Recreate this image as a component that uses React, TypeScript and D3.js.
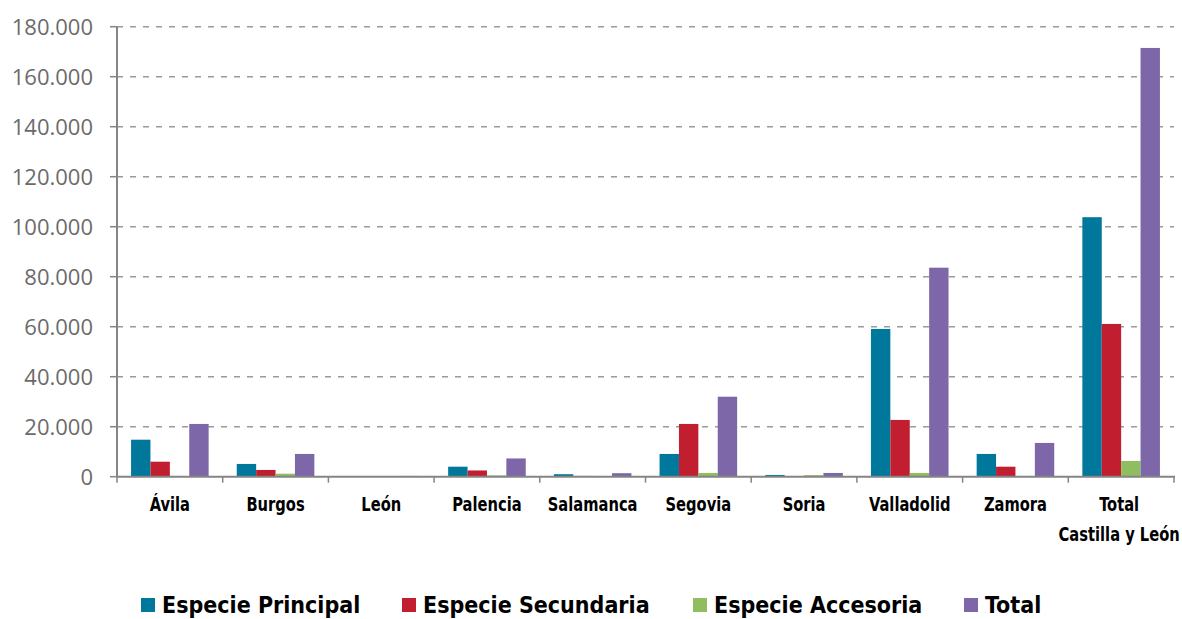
import React from "react";
import * as d3 from "d3";

const categories = ["Ávila", "Burgos", "León", "Palencia", "Salamanca", "Segovia", "Soria", "Valladolid", "Zamora", "Total|Castilla y León"];
const seriesNames = ["Especie Principal", "Especie Secundaria", "Especie Accesoria", "Total"];
const principal = [14800, 5100, 100, 4000, 1000, 9100, 700, 59100, 9100, 103800];
const secundaria = [6000, 2700, 150, 2500, 300, 21100, 200, 22700, 4000, 61100];
const accesoria = [200, 1200, 50, 500, 100, 1500, 600, 1500, 300, 6300];
const totalVals = [21100, 9100, 300, 7300, 1400, 32000, 1500, 83600, 13500, 171500];
const yTicks = [0, 20000, 40000, 60000, 80000, 100000, 120000, 140000, 160000, 180000];
const colors = ["#00789b", "#c11f30", "#8fbd5f", "#7d67a9"];

const W = 1182, H = 619;
const left = 117, right = 1174, top = 26.7, bottom = 476.7;
const fmt = d3.formatLocale({ decimal: ",", thousands: ".", grouping: [3], currency: ["", ""] }).format(",d");
const condensed = "'DejaVu Sans Condensed', 'DejaVu Sans', sans-serif";

export default function App() {
  const series = [principal, secundaria, accesoria, totalVals];
  const x0 = d3.scaleBand<string>().domain(categories).range([left, right]).padding(0);
  const bw = x0.bandwidth();
  const x1 = d3.scaleBand<string>().domain(seriesNames).range([bw * 0.133, bw * 0.867]).padding(0);
  const y = d3.scaleLinear().domain([0, 180000]).range([bottom, top]);
  const legendX = [141, 402, 693, 964];

  return (
    <div style={{ position: "absolute", left: 0, top: 0 }}>
      <svg width={W} height={H} style={{ display: "block", background: "#fff" }}>
        {yTicks.filter((t) => t > 0).map((t) => (
          <line key={"g" + t} x1={left} x2={right} y1={y(t)} y2={y(t)} stroke="#9a9a9a" strokeWidth={1.5} strokeDasharray="6,7" />
        ))}
        {categories.map((c, i) => (
          <g key={c}>
            {series.map((s, j) => {
              const v = s[i];
              const bx = (x0(c) as number) + (x1(seriesNames[j]) as number);
              return (
                <rect key={j} x={bx} y={y(v)} width={x1.bandwidth()} height={bottom - y(v)} fill={colors[j]} />
              );
            })}
          </g>
        ))}
        {/* y axis */}
        <line x1={left} x2={left} y1={top} y2={bottom} stroke="#858585" strokeWidth={2} />
        {yTicks.map((t) => (
          <g key={"t" + t}>
            <line x1={left - 7} x2={left} y1={y(t)} y2={y(t)} stroke="#858585" strokeWidth={1.5} />
            <text x={93} y={y(t)} dy="0.36em" textAnchor="end" fontFamily="'Open Sans', sans-serif" fontSize={22} fill="#6b6b6b">
              {fmt(t)}
            </text>
          </g>
        ))}
        {/* x axis */}
        <line x1={left} x2={right + 1} y1={bottom} y2={bottom} stroke="#858585" strokeWidth={2} />
        {categories.map((c, i) => (
          <line key={"xt" + i} x1={x0(c)} x2={x0(c)} y1={bottom} y2={bottom + 6} stroke="#858585" strokeWidth={1.5} />
        ))}
        <line x1={right} x2={right} y1={bottom} y2={bottom + 6} stroke="#858585" strokeWidth={1.5} />
        {categories.map((c) => {
          const lines = c.split("|");
          const cx = (x0(c) as number) + bw / 2 - (lines.length > 1 ? 2 : 0);
          return (
            <text key={"l" + c} transform={`translate(${cx},511) scale(0.86,1)`} textAnchor="middle" fontFamily={condensed} fontWeight="bold" fontSize={19} fill="#000">
              {lines.map((ln, k) => (
                <tspan key={k} x={0} dy={k === 0 ? 0 : 30}>{ln}</tspan>
              ))}
            </text>
          );
        })}
        {/* legend */}
        {seriesNames.map((s, j) => (
          <g key={"lg" + s}>
            <rect x={legendX[j]} y={598} width={14} height={14} fill={colors[j]} />
            <text x={legendX[j] + 21} y={613} fontFamily={condensed} fontWeight="bold" fontSize={23} fill="#000">
              {s}
            </text>
          </g>
        ))}
      </svg>
    </div>
  );
}
